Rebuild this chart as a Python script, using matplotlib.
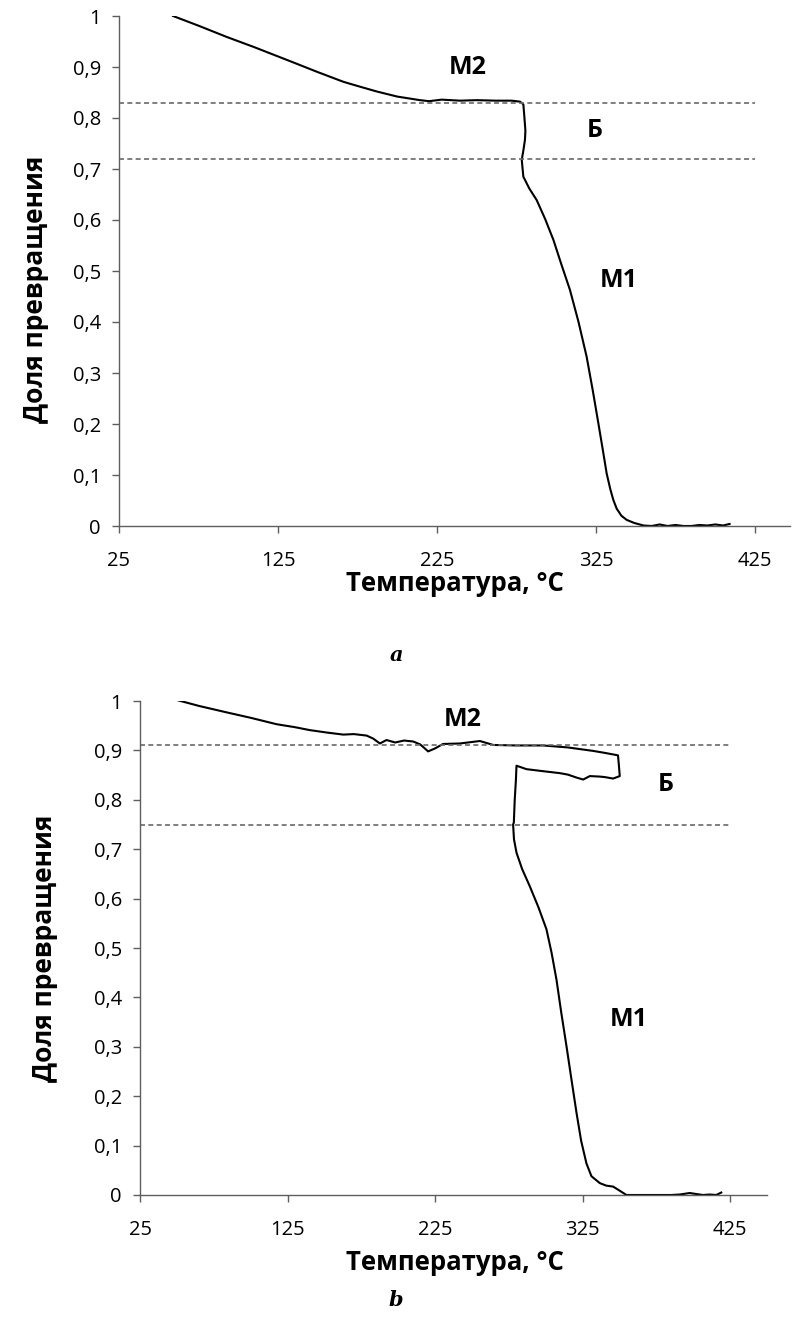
import matplotlib
matplotlib.use("Agg")
import matplotlib.pyplot as plt
from matplotlib.ticker import FixedLocator, FuncFormatter

plt.rcParams['font.family'] = ['Open Sans', 'DejaVu Sans']

# ---------- data: panel a ----------
temp_a = [59, 75, 92.7, 110, 134.6, 150, 166.1, 177, 187.1, 200, 214.3, 220, 228, 239.5,
          250, 262, 272, 277.2, 279.3, 280.0, 280.6, 280.3, 279.5, 278.3, 279.3,
          283, 287.7, 293, 298.2, 303, 308.6, 314, 319.1, 323, 326.5, 329.5, 331.7,
          334, 335.9, 338, 341, 344.3, 349, 354.8, 360, 365, 370, 375, 380, 385,
          390, 395, 400, 405, 409]
frac_a = [1.0, 0.981, 0.959, 0.939, 0.909, 0.890, 0.871, 0.861, 0.852, 0.842, 0.835,
          0.833, 0.836, 0.834, 0.835, 0.834, 0.834, 0.832, 0.827, 0.80, 0.775, 0.757,
          0.74, 0.718, 0.685, 0.662, 0.639, 0.602, 0.561, 0.515, 0.463, 0.400, 0.332,
          0.265, 0.201, 0.145, 0.103, 0.072, 0.051, 0.034, 0.020, 0.012, 0.006, 0.001,
          0.0, 0.003, 0.0, 0.002, 0.0, 0.0, 0.002, 0.001, 0.003, 0.001, 0.004]

# ---------- data: panel b ----------
temp_b = [50, 65, 83.7, 100, 117.6, 130, 140.2, 152, 162.8, 170, 178.6, 183, 187.6,
          192.1, 198, 204, 210.2, 215, 220.3, 225, 230.4, 241.8, 255.4, 264.4, 280,
          298.2, 315, 332.1, 340, 349.0, 349.6, 350.2, 345.7, 340, 336.7, 329.9,
          325.4, 320.9, 315, 309.5, 298, 287.0, 280.2, 279.8, 279.0, 278.4, 277.9,
          278.5, 280.2, 284, 289.2, 295, 300.5, 304, 307.3, 310.5, 314.1, 317.5,
          320.9, 324, 327.6, 331, 336.7, 341, 345.7, 350, 354.7, 370, 385, 390.9,
          397.6, 402, 406.6, 411, 415.6, 419]
frac_b = [1.002, 0.99, 0.977, 0.966, 0.953, 0.947, 0.941, 0.936, 0.932, 0.933, 0.930,
          0.924, 0.914, 0.921, 0.916, 0.920, 0.918, 0.912, 0.898, 0.904, 0.913,
          0.914, 0.919, 0.911, 0.910, 0.910, 0.906, 0.899, 0.895, 0.890, 0.87, 0.848,
          0.843, 0.846, 0.847, 0.848, 0.841, 0.845, 0.851, 0.854, 0.858, 0.862,
          0.869, 0.84, 0.80, 0.754, 0.750, 0.72, 0.693, 0.66, 0.625, 0.583, 0.538,
          0.49, 0.436, 0.37, 0.301, 0.233, 0.166, 0.11, 0.064, 0.038, 0.024, 0.019,
          0.017, 0.009, 0.0, 0.0, 0.0, 0.001, 0.004, 0.002, 0.0, 0.001, 0.0, 0.005]

dash_a = [0.83, 0.72]
dash_b = [0.91, 0.75]

x_ticks = [25, 125, 225, 325, 425]
y_ticks = [0, 0.1, 0.2, 0.3, 0.4, 0.5, 0.6, 0.7, 0.8, 0.9, 1.0]

labels_a = [("M2", 244, 0.90), ("Б", 324, 0.775), ("M1", 339, 0.482)]
labels_b = [("M2", 244, 0.963), ("Б", 381, 0.83), ("M1", 356, 0.355)]

xlabel = "Температура, °C"
ylabel = "Доля превращения"

W, H = 792, 1319
fig = plt.figure(figsize=(W / 100, H / 100), dpi=100)

def px_axes(l, r, t, b):
    return fig.add_axes([l / W, 1 - b / H, (r - l) / W, (b - t) / H])

ax_a = px_axes(119, 790, 16, 526)
ax_b = px_axes(140, 767, 701, 1195)

axis_col = '#5e5e5e'

def style(ax, T, F, dashes, labels, xmax, xlab_pos, ylab_pos):
    ax.plot(T, F, color='black', lw=1.5, solid_joinstyle='round')
    for d in dashes:
        ax.plot([25, 425], [d, d], color='#6a6a6a', lw=1.2, linestyle=(0, (3, 2)))
    ax.set_xlim(25, xmax)
    ax.set_ylim(0, 1)
    ax.xaxis.set_major_locator(FixedLocator(x_ticks))
    ax.yaxis.set_major_locator(FixedLocator(y_ticks))
    ax.yaxis.set_major_formatter(FuncFormatter(
        lambda v, p: ('%g' % round(v, 1)).replace('.', ',')))
    for s in ['top', 'right']:
        ax.spines[s].set_visible(False)
    for s in ['left', 'bottom']:
        ax.spines[s].set_color(axis_col)
        ax.spines[s].set_linewidth(1.0)
    ax.tick_params(axis='both', direction='out', length=5, width=1.0,
                   color=axis_col, labelsize=14.5, labelcolor='black')
    ax.tick_params(axis='y', pad=8)
    ax.tick_params(axis='x', pad=13)
    ax.set_xlabel(xlabel, fontsize=18.5, fontweight='bold')
    ax.set_ylabel(ylabel, fontsize=19, fontweight='bold')
    ax.xaxis.set_label_coords(*xlab_pos)
    ax.yaxis.set_label_coords(*ylab_pos)
    ax.xaxis.label.set_va('center')
    ax.yaxis.label.set_va('center')
    for txt, x, y in labels:
        ax.text(x, y, txt, fontsize=18, fontweight='bold', ha='center', va='center')
    ax.patch.set_alpha(0)

style(ax_a, temp_a, frac_a, dash_a, labels_a, 447, (0.50, -0.112), (-0.125, 0.465))
style(ax_b, temp_b, frac_b, dash_b, labels_b, 450, (0.502, -0.136), (-0.152, 0.50))

fig.text(396 / W, 1 - 655 / H, 'a', fontsize=15, fontweight='bold', style='italic',
         family='DejaVu Serif', ha='center', va='center')
fig.text(396 / W, 1 - 1300 / H, 'b', fontsize=15, fontweight='bold', style='italic',
         family='DejaVu Serif', ha='center', va='center')

fig.savefig('out.png', dpi=100)
